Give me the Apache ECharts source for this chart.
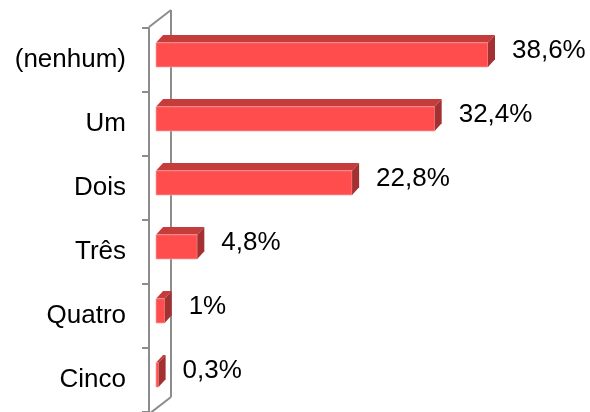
<!DOCTYPE html>
<html>
<head>
<meta charset="utf-8">
<script src="https://cdn.jsdelivr.net/npm/echarts@6/dist/echarts.min.js"></script>
<style>
  html, body { margin: 0; padding: 0; background: #fff; }
  #chart { width: 590px; height: 412px; }
</style>
</head>
<body>
<div id="chart"></div>
<script>
// Number of children per household (share of respondents, %)
const categories = ['(nenhum)', 'Um', 'Dois', 'Três', 'Quatro', 'Cinco'];
const shares = [38.6, 32.4, 22.8, 4.8, 1, 0.3];

const FRONT = '#ff4d4d';
const TOP = '#c43c3c';
const SIDE = '#a33131';
const WALL = '#8c8c8c';
const FONT = 'Liberation Sans, Arial, sans-serif';

// Plot area (front plane of the axis wall)
const GRID = { left: 149, top: 28, width: 344, height: 388 };
// Bars sit a little behind the front plane
const BAR_SHIFT = 7;

function fmt(v) {
  return String(v).replace('.', ',') + '%';
}

// Extruded horizontal bar: front face, top face and right side face
function renderBar(params, api) {
  const v = api.value(0);
  const idx = api.value(1);
  const p0 = api.coord([0, idx]);
  const p1 = api.coord([v, idx]);
  const band = api.size([0, 1])[1];
  const yTop = p0[1] - band / 2;
  const fy0 = yTop + band * 0.23;
  const fy1 = yTop + band * 0.61;
  const dx = band * 0.11;
  const dy = band * 0.12;
  const x0 = p0[0] + BAR_SHIFT;
  const x1 = p1[0] + BAR_SHIFT;
  return {
    type: 'group',
    children: [
      {
        type: 'polygon',
        shape: { points: [[x0, fy0], [x0 + dx, fy0 - dy], [x1 + dx, fy0 - dy], [x1, fy0]] },
        style: { fill: TOP }
      },
      {
        type: 'rect',
        shape: { x: x0, y: fy0, width: x1 - x0, height: fy1 - fy0 },
        style: { fill: FRONT, stroke: 'rgba(255,170,170,0.7)', lineWidth: 1 }
      },
      {
        type: 'polygon',
        shape: { points: [[x1, fy0], [x1 + dx, fy0 - dy], [x1 + dx, fy1 - dy], [x1, fy1]] },
        style: { fill: SIDE }
      },
      {
        type: 'text',
        style: {
          x: x1 + dx + 17,
          y: yTop + band * 0.36,
          text: fmt(v),
          fill: '#000',
          font: '26px ' + FONT,
          verticalAlign: 'middle',
          align: 'left'
        }
      }
    ]
  };
}

// Back wall of the category axis: top edge, back edge and bottom edge
const fx = GRID.left;
const bx = GRID.left + 22;
const yT = GRID.top;
const yB = GRID.top + GRID.height;
const wallStyle = { stroke: WALL, lineWidth: 2 };

const chart = echarts.init(document.getElementById('chart'), null, { renderer: 'canvas' });
chart.setOption({
  animation: false,
  backgroundColor: '#fff',
  grid: GRID,
  graphic: [
    { type: 'line', silent: true, shape: { x1: fx, y1: yT - 1, x2: bx, y2: yT - 18 }, style: wallStyle },
    { type: 'line', silent: true, shape: { x1: bx, y1: yT - 18, x2: bx, y2: yB - 19 }, style: wallStyle },
    { type: 'line', silent: true, shape: { x1: bx, y1: yB - 19, x2: fx, y2: yB - 2 }, style: wallStyle }
  ],
  xAxis: {
    type: 'value',
    min: 0,
    max: 40,
    show: false
  },
  yAxis: {
    type: 'category',
    data: categories,
    inverse: true,
    axisLine: { show: true, lineStyle: { color: WALL, width: 2 } },
    axisTick: { show: true, length: 7, lineStyle: { color: WALL, width: 2 } },
    axisLabel: { color: '#000', fontSize: 26, fontFamily: FONT, margin: 23 },
    splitLine: { show: false }
  },
  series: [
    {
      type: 'custom',
      renderItem: renderBar,
      data: shares.map((v, i) => [v, i]),
      encode: { x: 0, y: 1 },
      clip: false,
      z: 2
    }
  ]
});
</script>
</body>
</html>
